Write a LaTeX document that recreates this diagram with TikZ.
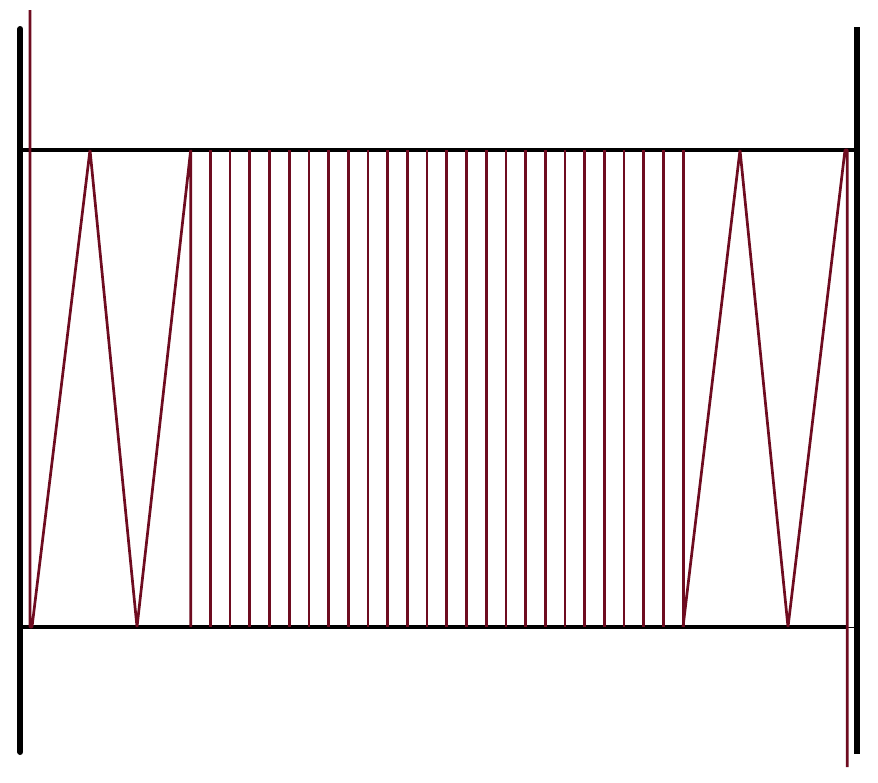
\documentclass[tikz,border=0pt]{standalone}
\definecolor{coil}{RGB}{110,12,32}
\begin{document}
\begin{tikzpicture}[x=1pt,y=-1pt,
  wall/.style={line width=6pt,black},
  rail/.style={line width=4.5pt,black},
  wire/.style={line width=2.7pt,coil,line join=bevel}]
\useasboundingbox (0,0) rectangle (878,782);
% walls
\draw[wall,line cap=round] (20.3,29) -- (20.3,752);
\draw[wall] (857.3,27) -- (857.3,754);
% rails
\draw[rail] (20,150) -- (857,150);
\draw[rail] (20,627) -- (847,627);
\draw[black,line width=0.6pt] (847,627) -- (857,627);
% coil, left part
\draw[wire] (30,10) -- (30,627) -- (32,627) -- (90,150) -- (137,627) -- (190.7,150) -- (190.7,627);
% dense vertical turns
\foreach \i in {1,...,25} {
  \draw[wire] ({190.7+\i*19.7},150) -- ({190.7+\i*19.7},627);
}
% coil, right part
\draw[wire] (683,627) -- (740,150) -- (788,627) -- (845,150) -- (847.3,150) -- (847.3,767);
\end{tikzpicture}
\end{document}
